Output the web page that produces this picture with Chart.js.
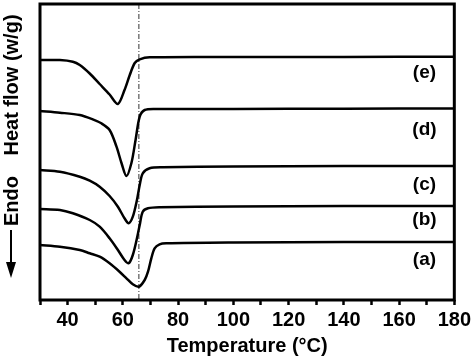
<!DOCTYPE html>
<html>
<head>
<meta charset="utf-8">
<script src="https://cdn.jsdelivr.net/npm/chart.js@4"></script>
<style>
	html, body { margin: 0; padding: 0; background: #fff; }
</style>
</head>
<body>
<canvas id="dscChart" width="474" height="360"></canvas>
<script>
// temperatures (°C) and heat flow readings (arbitrary units, curves offset) for each sample
var tempA = [30, 37.2, 44.4, 48.0, 51.6, 55.2, 58.8, 61.3, 63.6, 65.8, 67.9, 69.1, 70.3, 71.5, 73.3, 75.7, 100, 140, 180];
var heatA = [55, 53.3, 50, 46.7, 43.3, 36.7, 28.3, 21.7, 15.7, 13.3, 20, 28.3, 41.7, 51.7, 55.7, 56.7, 57.5, 58, 58];

var tempB = [30, 37.2, 41.9, 48.0, 51.6, 55.2, 58.2, 60.6, 62.1, 63.6, 65.1, 66.1, 67.2, 69.1, 73.3, 100, 140, 180];
var heatB = [91, 90, 86.7, 80, 73.3, 61.7, 50, 40, 36.7, 45, 61.7, 75, 88.3, 91.7, 92.7, 93.5, 94, 94];

var tempC = [30, 37.2, 44.4, 48.0, 51.6, 55.2, 58.2, 60.6, 62.1, 63.6, 65.1, 66.1, 67.2, 69.7, 74.4, 100, 140, 180];
var heatC = [130, 128.3, 123.3, 119.3, 113.3, 104, 93.3, 81.7, 76.7, 83.3, 100, 115, 126.7, 131.7, 132.7, 133.5, 134, 134];

var tempD = [30, 37.2, 44.4, 49.1, 52.2, 55.2, 57.7, 59.5, 61.3, 63.1, 64.6, 66.1, 67.9, 72.1, 100, 140, 180];
var heatD = [189, 187.3, 185, 180.7, 176.7, 170, 153.3, 137, 124, 137, 160, 183.3, 190, 191, 191, 191.3, 191.5];

var tempE = [30, 37.2, 41.9, 44.4, 48.0, 51.6, 55.2, 58.2, 60.6, 62.5, 64.3, 66.1, 69.7, 100, 140, 180];
var heatE = [240, 240, 238.3, 235, 226.5, 216, 205.5, 196, 210, 225, 237, 240.7, 242.7, 243, 243, 243.3];

// curve labels, placed near the right edge under each trace
var curveNames = ["(a)", "(b)", "(c)", "(d)", "(e)"];
var labelHeat = [40, 80, 115, 170, 227];
var labelTemp = 169.2;

// dash-dot reference line
var markTemp = 65.8;

var fontFam = "'Liberation Sans', Arial, sans-serif";

function toPoints(xs, ys) {
	var pts = [];
	for (var i = 0; i < xs.length; i++) {
		pts.push({ x: xs[i], y: ys[i] });
	}
	return pts;
}

function curve(xs, ys) {
	return {
		data: toPoints(xs, ys),
		borderColor: "#000",
		borderWidth: 2.5,
		pointRadius: 0,
		fill: false,
		tension: 0.3
	};
}

var extras = {
	id: "extras",
	beforeDatasetsDraw: function(chart) {
		var ctx = chart.ctx, a = chart.chartArea;
		var vx = chart.scales.x.getPixelForValue(markTemp);
		ctx.save();
		ctx.strokeStyle = "#333";
		ctx.lineWidth = 1;
		ctx.setLineDash([5, 2, 1, 2]);
		ctx.beginPath();
		ctx.moveTo(vx, a.top);
		ctx.lineTo(vx, a.bottom);
		ctx.stroke();
		ctx.restore();
	},
	afterDraw: function(chart) {
		var ctx = chart.ctx, a = chart.chartArea;
		var xs = chart.scales.x, ys = chart.scales.y;
		ctx.save();
		// frame
		ctx.strokeStyle = "#000";
		ctx.lineWidth = 3;
		ctx.strokeRect(a.left, a.top, a.right - a.left, a.bottom - a.top);

		// (a)..(e)
		ctx.fillStyle = "#000";
		ctx.font = "bold 19px " + fontFam;
		ctx.textAlign = "center";
		ctx.textBaseline = "middle";
		for (var i = 0; i < curveNames.length; i++) {
			ctx.fillText(curveNames[i], xs.getPixelForValue(labelTemp), ys.getPixelForValue(labelHeat[i]));
		}

		// arrow pointing down (endo)
		ctx.lineWidth = 2;
		ctx.beginPath();
		ctx.moveTo(11, 230);
		ctx.lineTo(11, 265);
		ctx.stroke();
		ctx.beginPath();
		ctx.moveTo(6, 262);
		ctx.lineTo(16, 262);
		ctx.lineTo(11, 278);
		ctx.closePath();
		ctx.fill();

		// rotated y title
		ctx.translate(12, 0);
		ctx.rotate(-Math.PI / 2);
		ctx.font = "bold 20px " + fontFam;
		ctx.fillText("Heat flow (w/g)", -85, 0);
		ctx.fillText("Endo", -201, 0);
		ctx.restore();
	}
};

var ctx = document.getElementById("dscChart").getContext("2d");
var dscChart = new Chart(ctx, {
	type: "line",
	data: {
		datasets: [
			curve(tempA, heatA),
			curve(tempB, heatB),
			curve(tempC, heatC),
			curve(tempD, heatD),
			curve(tempE, heatE)
		]
	},
	options: {
		responsive: false,
		animation: false,
		layout: { padding: { left: 40, top: 4, right: 18, bottom: 0 } },
		plugins: {
			legend: { display: false },
			tooltip: { enabled: false }
		},
		scales: {
			x: {
				type: "linear",
				min: 30,
				max: 180,
				afterFit: function(s) { s.height = 60; },
				border: { display: false },
				grid: { drawOnChartArea: false, drawTicks: true, tickLength: 5, tickWidth: 2.5, color: "#000" },
				ticks: {
					stepSize: 10,
					autoSkip: false,
					maxRotation: 0,
					padding: 3,
					color: "#000",
					font: { family: fontFam, size: 20, weight: "bold" },
					callback: function(v) { return (v % 20 === 0) ? v : ""; }
				},
				title: {
					display: true,
					text: "Temperature (°C)",
					color: "#000",
					font: { family: fontFam, size: 20, weight: "bold" },
					padding: { top: 0, bottom: 2 }
				}
			},
			y: {
				display: false,
				min: 0,
				max: 296
			}
		}
	},
	plugins: [extras]
});
</script>
</body>
</html>
